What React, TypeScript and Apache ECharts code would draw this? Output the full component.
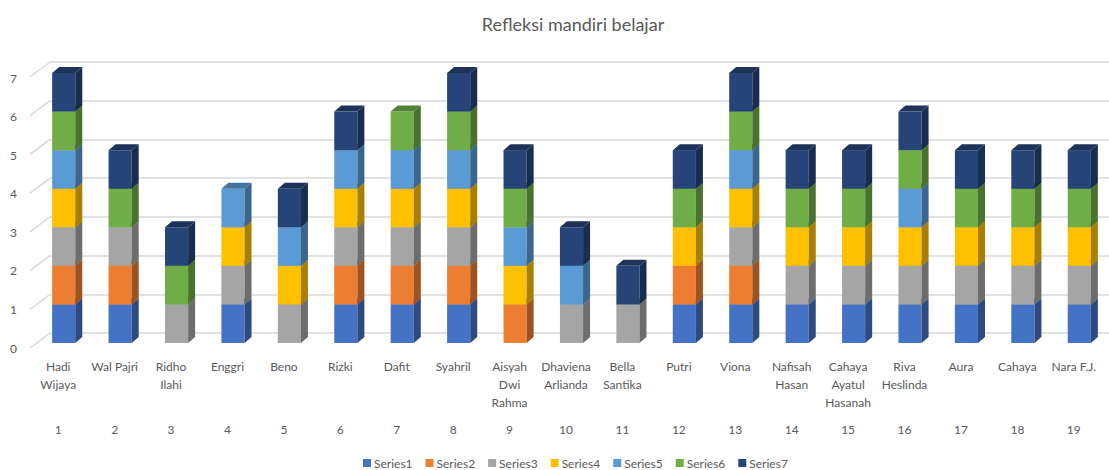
import React, { useEffect, useRef } from "react";
import * as echarts from "echarts";

const names = [
  "Hadi\nWijaya", "Wal Pajri", "Ridho\nIlahi", "Enggri", "Beno", "Rizki", "Dafit", "Syahril",
  "Aisyah\nDwi\nRahma", "Dhaviena\nArlianda", "Bella\nSantika", "Putri", "Viona", "Nafisah\nHasan",
  "Cahaya\nAyatul\nHasanah", "Riva\nHeslinda", "Aura", "Cahaya", "Nara F.J.",
];
const numbers = ["1", "2", "3", "4", "5", "6", "7", "8", "9", "10", "11", "12", "13", "14", "15", "16", "17", "18", "19"];
const yTicks = [0, 1, 2, 3, 4, 5, 6, 7];

const series1 = [1, 1, 0, 1, 0, 1, 1, 1, 0, 0, 0, 1, 1, 1, 1, 1, 1, 1, 1];
const series2 = [1, 1, 0, 0, 0, 1, 1, 1, 1, 0, 0, 1, 1, 0, 0, 0, 0, 0, 0];
const series3 = [1, 1, 1, 1, 1, 1, 1, 1, 0, 1, 1, 0, 1, 1, 1, 1, 1, 1, 1];
const series4 = [1, 0, 0, 1, 1, 1, 1, 1, 1, 0, 0, 1, 1, 1, 1, 1, 1, 1, 1];
const series5 = [1, 0, 0, 1, 1, 1, 1, 1, 1, 1, 0, 0, 1, 0, 0, 1, 0, 0, 0];
const series6 = [1, 1, 1, 0, 0, 0, 1, 1, 1, 0, 0, 1, 1, 1, 1, 1, 1, 1, 1];
const series7 = [1, 1, 1, 0, 1, 1, 0, 1, 1, 1, 1, 1, 1, 1, 1, 1, 1, 1, 1];

const seriesNames = ["Series1", "Series2", "Series3", "Series4", "Series5", "Series6", "Series7"];
const seriesValues = [series1, series2, series3, series4, series5, series6, series7];
const colors = ["#4472C4", "#ED7D31", "#A5A5A5", "#FFC000", "#5B9BD5", "#70AD47", "#264478"];

function shade(hex: string, f: number) {
  const n = parseInt(hex.slice(1), 16);
  const r = Math.round(((n >> 16) & 255) * f);
  const g = Math.round(((n >> 8) & 255) * f);
  const b = Math.round((n & 255) * f);
  return `rgb(${r},${g},${b})`;
}

const TEXT = "#595959";
const FONT = "Lato";

export default function App() {
  const ref = useRef<HTMLDivElement>(null);
  useEffect(() => {
    if (!ref.current) return;
    const chart = echarts.init(ref.current, null, { renderer: "svg" });

    const bases: number[] = names.map(() => 0);
    const barSeries = seriesValues.map((vals, si) => {
      const data = vals.map((v, ci) => {
        const d = [ci, bases[ci], v];
        bases[ci] += v;
        return d;
      });
      const color = colors[si];
      return {
        type: "custom",
        name: seriesNames[si],
        xAxisIndex: 1,
        yAxisIndex: 1,
        itemStyle: { color },
        clip: false,
        encode: { x: 0, y: [1, 2] },
        data,
        renderItem: (params: any, api: any) => {
          const cat = api.value(0);
          const base = api.value(1);
          const v = api.value(2);
          if (!v) return null;
          const b = api.coord([cat, base]);
          const t = api.coord([cat, base + v]);
          const band = api.size([1, 0])[0];
          const w = band * 0.41;
          const cx = b[0] + 5.5;
          const x0 = cx - w / 2;
          const x1 = cx + w / 2;
          const dx = 7;
          const dy = 6;
          return {
            type: "group",
            children: [
              { type: "rect", shape: { x: x0, y: t[1], width: w, height: b[1] - t[1] }, style: { fill: color } },
              {
                type: "polygon",
                shape: { points: [[x1, t[1]], [x1 + dx, t[1] - dy], [x1 + dx, b[1] - dy], [x1, b[1]]] },
                style: { fill: shade(color, 0.66) },
              },
              {
                type: "polygon",
                shape: { points: [[x0, t[1]], [x0 + dx, t[1] - dy], [x1 + dx, t[1] - dy], [x1, t[1]]] },
                style: { fill: shade(color, 0.75) },
              },
            ],
          };
        },
      };
    });

    const option: any = {
      animation: false,
      backgroundColor: "#ffffff",
      textStyle: { fontFamily: FONT },
      title: {
        text: "Refleksi mandiri belajar",
        left: 568,
        textAlign: "center",
        top: 10,
        textStyle: { color: TEXT, fontSize: 18, fontWeight: "normal", fontFamily: FONT },
      },
      legend: {
        top: 452,
        left: 358,
        icon: "rect",
        itemWidth: 8,
        itemHeight: 8,
        itemGap: 13,
        textStyle: { color: TEXT, fontSize: 12, fontFamily: FONT, padding: [0, 0, 0, -2] },
        data: seriesNames,
      },
      grid: [
        { left: 50, right: 0, top: 62, bottom: 137 },
        { left: 30, right: 7, top: 73, bottom: 127 },
      ],
      xAxis: [
        { gridIndex: 0, type: "value", min: 0, max: 1, show: false },
        {
          gridIndex: 1,
          type: "category",
          data: names,
          axisLine: { show: false },
          axisTick: { show: false },
          axisLabel: { color: TEXT, fontSize: 12, fontFamily: FONT, lineHeight: 18, margin: 14, interval: 0 },
        },
        {
          gridIndex: 1,
          type: "category",
          data: numbers,
          position: "bottom",
          offset: 72,
          axisLine: { show: false },
          axisTick: { show: false },
          axisLabel: { color: TEXT, fontSize: 12, fontFamily: FONT, margin: 8, interval: 0 },
        },
      ],
      yAxis: [
        {
          gridIndex: 0,
          type: "value",
          min: 0,
          max: 7,
          interval: 1,
          axisLabel: { show: false },
          axisLine: { show: false },
          axisTick: { show: false },
          splitLine: { show: true, lineStyle: { color: "#d9d9d9", width: 1.5 } },
        },
        {
          gridIndex: 1,
          type: "value",
          min: 0,
          max: 7,
          interval: 1,
          axisLine: { show: false },
          axisTick: { show: false },
          splitLine: { show: false },
          axisLabel: {
            color: TEXT,
            fontSize: 12,
            fontFamily: FONT,
            margin: 13,
            verticalAlign: "top",
            lineHeight: 10,
          },
        },
      ],
      series: [
        {
          type: "custom",
          name: "floor",
          xAxisIndex: 0,
          yAxisIndex: 0,
          silent: true,
          clip: false,
          data: yTicks.map((v) => [0, v]),
          renderItem: (params: any, api: any) => {
            const p = api.coord([0, api.value(1)]);
            return {
              type: "line",
              shape: { x1: p[0] - 20, y1: p[1] + 15, x2: p[0], y2: p[1] },
              style: { stroke: "#d9d9d9", lineWidth: 1.5 },
            };
          },
        },
        ...barSeries,
      ],
    };
    chart.setOption(option);
    return () => chart.dispose();
  }, []);
  return (
    <div
      ref={ref}
      style={{ position: "fixed", left: 0, top: 0, width: 1109, height: 470, background: "#fff" }}
    />
  );
}
